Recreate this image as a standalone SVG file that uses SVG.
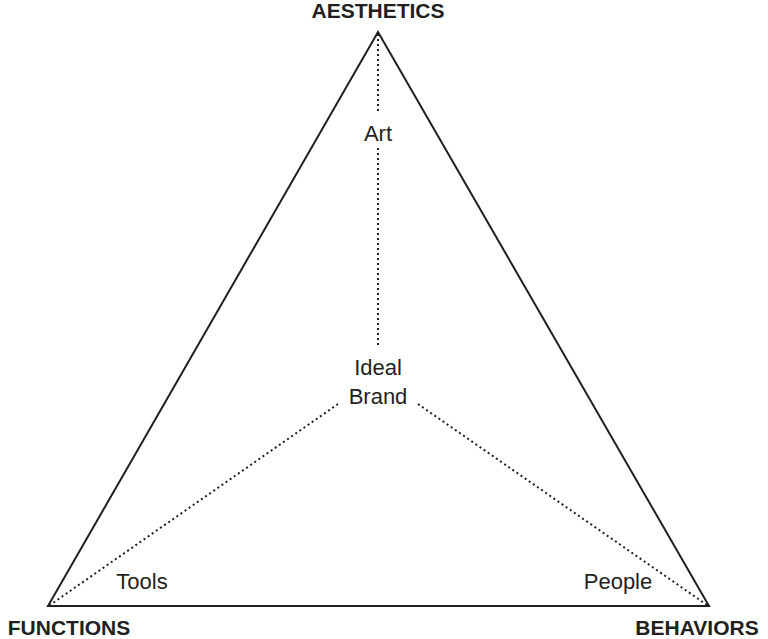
<svg xmlns="http://www.w3.org/2000/svg" width="768" height="639" viewBox="0 0 768 639">
<style>
.t{font-family:"Liberation Sans",Arial,sans-serif;font-size:22px;fill:#231f20;text-anchor:middle}
.b{font-weight:bold;font-size:21px}
.d{stroke:#231f20;stroke-width:2;stroke-dasharray:2 3;fill:none}
</style>
<rect width="768" height="639" fill="#fff"/>
<g id="triangle"><polygon points="378,32 48,606 709,606" fill="none" stroke="#231f20" stroke-width="2"/></g>
<g id="connectors">
<line class="d" x1="378" y1="34" x2="378" y2="112"/>
<line class="d" x1="378" y1="148" x2="378" y2="348"/>
<line class="d" x1="338" y1="404" x2="50" y2="605"/>
<line class="d" x1="418" y1="404" x2="707" y2="605"/>
</g>
<g id="aesthetics"><text class="t b" x="378" y="18">AESTHETICS</text></g>
<g id="functions"><text class="t b" x="69" y="635">FUNCTIONS</text></g>
<g id="behaviors"><text class="t b" x="697" y="635">BEHAVIORS</text></g>
<g id="art"><text class="t" x="378" y="141">Art</text></g>
<g id="ideal"><text class="t" x="378" y="375">Ideal</text><text class="t" x="378" y="404">Brand</text></g>
<g id="tools"><text class="t" x="142" y="589">Tools</text></g>
<g id="people"><text class="t" x="618" y="589">People</text></g>
</svg>
